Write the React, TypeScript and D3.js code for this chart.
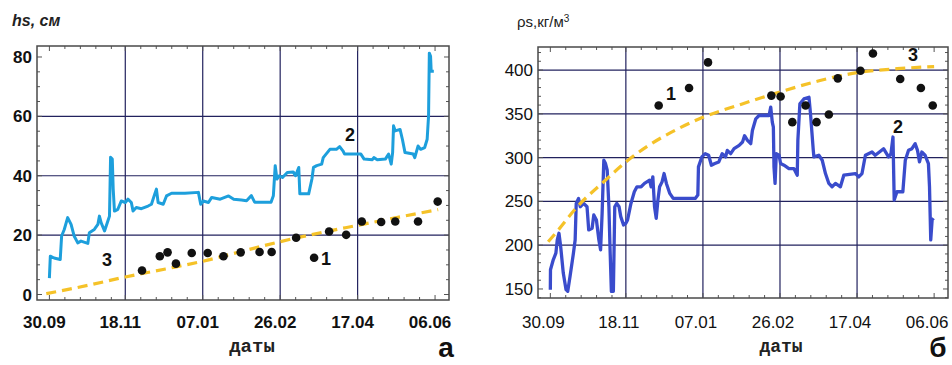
import React from "react";
import * as d3 from "d3";

// ---- shared axis data (days since 30.09) ----
const tickDays = [0, 49, 99, 149, 199, 249];
const tickLabels = ["30.09", "18.11", "07.01", "26.02", "17.04", "06.06"];
const gridDays = [49, 99, 149, 199];

// ---- panel a: snow depth hs, cm ----
const hsTicks = [0, 20, 40, 60, 80];
const hsGrid = [20, 40, 60];
const hsObserved: [number, number][] = [
  [0, 5.5], [0.6, 12.9], [3, 12.3], [7, 11.8], [7.9, 19.7], [9.6, 21.9], [11.8, 25.9], [14, 23.6],
  [16, 19.7], [18.3, 17.4], [20.4, 18], [24.8, 17.2], [25.8, 20.8], [29, 21.9], [31.3, 23.6], [32.3, 26.4],
  [33.4, 24.2], [35.6, 21.4], [37.7, 24.7], [38.8, 26.4], [39.5, 46.2], [40.6, 45.6], [41.2, 35.5], [42, 28.1],
  [44.2, 28.7], [46.4, 31.5], [49, 31], [50.7, 32.1], [52.9, 31], [54, 28.1], [56.1, 29.3], [59.4, 28.9],
  [63.7, 29.8], [65.9, 30.4], [68, 33.8], [69.1, 35.5], [70.2, 31], [73.5, 30.4], [75.6, 33.2], [78.9, 34.1],
  [87.5, 34.1], [96.2, 34.4], [97.7, 30.4], [99.4, 31.5], [102.7, 31], [104.8, 32.7], [110.3, 32.1], [115.7, 33.2],
  [119, 32.1], [124, 31.8], [127.3, 31.6], [130.4, 33.3], [132.5, 31.1], [143.1, 31.1], [144.6, 33.3], [145.8, 43.4],
  [146.9, 38.9], [148.4, 40], [150.5, 39.4], [153.6, 41.1], [157.4, 41.3], [158.9, 40], [161, 42.8], [161.7, 33.9],
  [167.4, 33.9], [169.5, 38.9], [170.5, 42.8], [172.6, 43.4], [175.8, 43.9], [176.8, 46.1], [181.1, 48.9], [185.3, 48.9],
  [187.4, 49.8], [189.5, 48.4], [190.6, 47.3], [201.1, 47.3], [203.2, 45.6], [208.5, 45.4], [209.5, 46.1], [211.7, 45.4],
  [216.9, 45.6], [219, 47.3], [220.7, 43.9], [221.6, 47.8], [222.2, 56.8], [223.3, 55.1], [226.4, 55.6], [227.9, 52.3],
  [229.6, 47.8], [234.9, 47.3], [235.9, 46.1], [238, 50], [239.7, 48.9], [242.3, 49.5], [243.9, 52.3], [244.8, 60.1],
  [245.3, 81.3], [246.1, 80.2], [246.5, 75.2], [248.2, 75.2],
];
const hsMeasured: [number, number][] = [
  [59.8, 8.1], [71.3, 12.9], [76.3, 14.2], [81.7, 10.4], [91.9, 14], [102.2, 14], [112.4, 12.9], [123.5, 14.2],
  [135.7, 14.3], [143.5, 14.3], [159.3, 19.1], [170.9, 12.4], [180.6, 21.2], [191.6, 20.1], [201.7, 24.6],
  [214.2, 24.4], [223.3, 24.6], [238, 24.6], [250.7, 31.3],
];
const hsModel: [number, number][] = [
  [-2, 0.3], [25, 3.1], [49, 5.9], [75, 8.6], [99, 11.2], [124, 14.5], [149, 17.8], [175, 20.8],
  [199, 23.3], [225, 26], [251, 28.6],
];

// ---- panel б: snow density ρs, kg/m3 ----
const rhoTicks = [150, 200, 250, 300, 350, 400];
const rhoGrid = [200, 250, 300, 350, 400];
const rhoObserved: [number, number][] = [
  [0, 149.2], [0.1, 172], [1.9, 183.3], [3.6, 190.9], [4.5, 206], [5.6, 213.6], [6.7, 198.5], [8.4, 168.2],
  [10.2, 149.2], [11.3, 147.3], [12.8, 164.4], [15, 191], [16.1, 206], [16.8, 247.7], [18.3, 253.4], [19.4, 243.9],
  [21.6, 247.7], [23.8, 243.9], [24.9, 217.4], [27.1, 219.3], [28.2, 234.5], [29.9, 228.8], [31.5, 206], [32.6, 194.7],
  [33.6, 236.4], [34.7, 297], [35.8, 293.2], [36.9, 285.6], [38, 243.9], [38.7, 198.5], [39.6, 147.3], [40.9, 147.3],
  [41.8, 243.9], [43.1, 247.7], [44.6, 243.9], [45.7, 232.6], [47.5, 223.1], [49, 225], [50.1, 228.8], [52.3, 247.7],
  [54.5, 261], [56.2, 266.7], [58.9, 266.7], [61.1, 270.5], [64.4, 274.2], [65.4, 266.7], [66.5, 278], [67.6, 243.9],
  [68.7, 230.7], [69.8, 251.5], [70.9, 266.7], [72.5, 272.3], [73.8, 281.8], [75.3, 270.5], [77.5, 259.1], [79.7, 253.4],
  [94, 253.4], [95.7, 257.2], [96.1, 289.4], [98.3, 300.8], [100.5, 304.5], [102.7, 302.7], [104.5, 291.3], [106.7, 293.2],
  [109.3, 295.1], [111.5, 304.5], [113.7, 300.8], [114.8, 308.3], [117, 304.5], [119.2, 310.2], [122.5, 314], [124.7, 317.8],
  [126, 325], [127.9, 319.7], [130, 315.9], [131.1, 331], [133.3, 344.3], [135.4, 348.1], [141.9, 348.1], [143, 357.6],
  [144, 340.5], [144.7, 334.8], [145.1, 289.4], [145.8, 270.5], [146.6, 304.5], [148.4, 302.7], [149.4, 293.2], [151.6, 291.3],
  [154.8, 287.5], [158, 287.5], [160.2, 279.9], [160.6, 319.7], [161.9, 361.4], [164.5, 367], [167.8, 368.9], [168.8, 350],
  [170.6, 308.3], [171, 300.8], [174.2, 302.7], [176.4, 297], [178.5, 281.8], [180.7, 270.5], [182.8, 266.7], [185, 270.5],
  [188.2, 266.7], [190.4, 279.9], [197.9, 281.8], [200.1, 278], [202.2, 281.8], [204.4, 302.7], [208.7, 306.4], [210.8, 302.7],
  [216.2, 310.2], [219.4, 300.8], [221, 304.5], [222.3, 323.5], [223.1, 251.5], [224.9, 261], [228.7, 261], [230.3, 297],
  [232.4, 308.3], [234.6, 310.2], [236.7, 315.9], [238.2, 308.3], [239.5, 295.1], [241, 306.4], [243.1, 302.7], [245.3, 293.2],
  [246, 266.7], [246.8, 206], [247.7, 228.8], [248.6, 230.7],
];
const rhoMeasured: [number, number][] = [
  [70.3, 359.5], [90, 379.5], [102.3, 408.7], [143.4, 370.8], [149.4, 369.7], [157, 340.5], [165.6, 359.5],
  [172.7, 340.5], [180.7, 349.2], [186.5, 390.5], [201.2, 399.2], [209.3, 418.9], [227, 389.8], [240.4, 379.5],
  [248.1, 359.5],
];
const rhoModel: [number, number][] = [
  [-1.4, 204], [5, 217], [17, 243], [35, 273], [49, 295], [63, 313], [83, 333], [99, 346],
  [124, 361], [149, 375], [175, 388], [199, 397], [225, 401.5], [249, 404],
];

const SANS = "'Liberation Sans', Arial, sans-serif";
const MONO = "'Liberation Mono', 'Courier New', monospace";

type PanelProps = {
  x0: number; x1: number; y0: number; y1: number;
  yDomain: [number, number];
  yTicks: number[]; yGrid: number[]; yMinorStep: number;
  observed: [number, number][]; measured: [number, number][]; model: [number, number][];
  lineColor: string; lineWidth: number;
  bold: boolean; labelDx: number;
  labels: { t: string; x: number; y: number }[];
};

function Panel(p: PanelProps) {
  const x = d3.scaleLinear().domain([-8, 258]).range([p.x0, p.x1]);
  const y = d3.scaleLinear().domain(p.yDomain).range([p.y1, p.y0]);
  const line = d3.line<[number, number]>().x((d) => x(d[0])).y((d) => y(d[1]));
  const smooth = d3.line<[number, number]>().x((d) => x(d[0])).y((d) => y(d[1])).curve(d3.curveMonotoneX);

  const xMinor: number[] = [];
  tickDays.forEach((m, i) => {
    const next = i < tickDays.length - 1 ? tickDays[i + 1] : 258;
    for (let k = 1; k <= 4; k++) if (m + 10 * k < next - 2 && m + 10 * k < 258) xMinor.push(m + 10 * k);
  });
  const yMinor: number[] = [];
  for (let v = Math.ceil(p.yDomain[0] / p.yMinorStep) * p.yMinorStep; v <= p.yDomain[1]; v += p.yMinorStep) {
    if (!p.yTicks.includes(v)) yMinor.push(v);
  }
  const tickC = "#555";
  const weight = p.bold ? "bold" : "normal";

  return (
    <g>
      {gridDays.map((d) => (
        <line key={"gx" + d} x1={x(d)} x2={x(d)} y1={p.y0} y2={p.y1} stroke="#22225e" strokeWidth={1.2} />
      ))}
      {p.yGrid.map((v) => (
        <line key={"gy" + v} x1={p.x0} x2={p.x1} y1={y(v)} y2={y(v)} stroke="#22225e" strokeWidth={1.2} />
      ))}
      {[...tickDays.map((d) => [d, 5]), ...xMinor.map((d) => [d, 3])].map(([d, l], i) => (
        <g key={"xt" + i} stroke={tickC} strokeWidth={1}>
          <line x1={x(d)} x2={x(d)} y1={p.y1} y2={p.y1 - l} />
          <line x1={x(d)} x2={x(d)} y1={p.y0} y2={p.y0 + l} />
        </g>
      ))}
      {[...p.yTicks.map((v) => [v, 5]), ...yMinor.map((v) => [v, 3])].map(([v, l], i) => (
        <g key={"yt" + i} stroke={tickC} strokeWidth={1}>
          <line x1={p.x0} x2={p.x0 + l} y1={y(v)} y2={y(v)} />
          <line x1={p.x1} x2={p.x1 - l} y1={y(v)} y2={y(v)} />
        </g>
      ))}
      <rect x={p.x0} y={p.y0} width={p.x1 - p.x0} height={p.y1 - p.y0} fill="none" stroke="#4a4a4a" strokeWidth={1.5} />
      {p.yTicks.map((v) => (
        <text key={"yl" + v} x={p.x0 - 5} y={y(v) + 6} textAnchor="end" fontFamily={SANS} fontSize={17} fontWeight={weight} fill="#111">
          {v}
        </text>
      ))}
      {tickDays.map((d, i) => (
        <text key={"xl" + d} x={x(d) + p.labelDx} y={328} textAnchor="middle" fontFamily={SANS} fontSize={17} fontWeight={weight} fill="#111">
          {tickLabels[i]}
        </text>
      ))}
      <path d={line(p.observed) || ""} fill="none" stroke={p.lineColor} strokeWidth={p.lineWidth} strokeLinejoin="round" />
      <path d={smooth(p.model) || ""} fill="none" stroke="#f5c228" strokeWidth={3.2} strokeDasharray="10,6" />
      {p.measured.map((d, i) => (
        <circle key={"m" + i} cx={x(d[0])} cy={y(d[1])} r={4.3} fill="#111" />
      ))}
      {p.labels.map((l) => (
        <text key={l.t} x={l.x} y={l.y + 6.4} textAnchor="middle" fontFamily={SANS} fontSize={18} fontWeight="bold" fill="#111">
          {l.t}
        </text>
      ))}
    </g>
  );
}

export default function App() {
  return (
    <svg width={952} height={365} style={{ position: "absolute", left: 0, top: 0, background: "#fff" }}>
      <rect width={952} height={365} fill="#fff" />
      <text x={12} y={26} fontFamily={SANS} fontSize={16} fontWeight="bold" fontStyle="italic" fill="#222">
        hs, см
      </text>
      <text x={517} y={27} fontFamily={SANS} fontSize={15} fill="#222">
        ρs,кг/м<tspan dy={-5} fontSize={10}>3</tspan>
      </text>
      <Panel
        x0={37} x1={449} y0={46} y1={300}
        yDomain={[-1.85, 83.7]} yTicks={hsTicks} yGrid={hsGrid} yMinorStep={5}
        observed={hsObserved} measured={hsMeasured} model={hsModel}
        lineColor="#1d9fdc" lineWidth={3} bold={true} labelDx={-5}
        labels={[{ t: "1", x: 326, y: 259 }, { t: "2", x: 350, y: 135 }, { t: "3", x: 107, y: 260 }]}
      />
      <Panel
        x0={538} x1={948} y0={47} y1={298}
        yDomain={[139.7, 426.3]} yTicks={rhoTicks} yGrid={rhoGrid} yMinorStep={10}
        observed={rhoObserved} measured={rhoMeasured} model={rhoModel}
        lineColor="#3a4ccc" lineWidth={3.3} bold={false} labelDx={-7}
        labels={[{ t: "1", x: 671, y: 94 }, { t: "2", x: 898, y: 127 }, { t: "3", x: 913, y: 55 }]}
      />
      <text x={252} y={352} textAnchor="middle" fontFamily={MONO} fontSize={19} fontWeight="bold" fill="#222">
        даты
      </text>
      <text x={781} y={352} textAnchor="middle" fontFamily={MONO} fontSize={18} fontWeight="bold" fill="#222">
        даты
      </text>
      <text x={446} y={357} textAnchor="middle" fontFamily={SANS} fontSize={28} fontWeight="bold" fill="#111">
        а
      </text>
      <text x={938} y={357} textAnchor="middle" fontFamily={SANS} fontSize={28} fontWeight="bold" fill="#111">
        б
      </text>
    </svg>
  );
}
